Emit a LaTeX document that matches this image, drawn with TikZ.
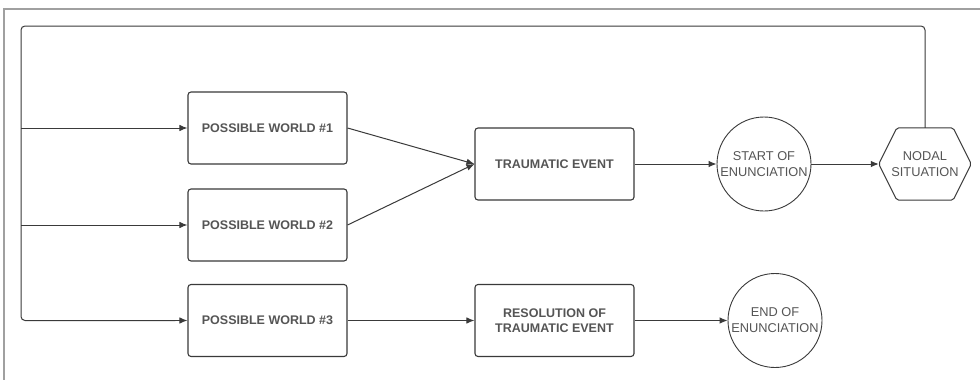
\documentclass[tikz,border=0pt]{standalone}
\usepackage{fontspec}
\setmainfont{Liberation Sans}
\usetikzlibrary{arrows.meta}
\definecolor{lineC}{HTML}{3A3A3A}
\definecolor{textC}{HTML}{555555}
\definecolor{frameC}{HTML}{A0A0A0}
\begin{document}
\begin{tikzpicture}[x=1pt,y=-1pt,
  box/.style={draw=lineC, line width=1.1pt, rounded corners=3pt, minimum width=159pt, minimum height=72pt, inner sep=0pt, align=center, text=textC, font=\bfseries\fontsize{12.5}{15.5}\selectfont},
  circ/.style={draw=lineC, line width=0.9pt, circle, minimum size=94pt, inner sep=0pt, align=center, text=textC, font=\fontsize{12.8}{16}\selectfont},
  hexbox/.style={minimum width=92pt, minimum height=72pt, inner sep=0pt, align=center, text=textC, font=\fontsize{12.8}{16}\selectfont},
  conn/.style={draw=lineC, line width=1pt},
  arr/.style={conn, -{Latex[length=8pt,width=6.5pt]}}
]
\useasboundingbox (0,0) rectangle (980,380);
\fill[white] (0,0) rectangle (980,380);
% frame
\draw[frameC, line width=1.2pt] (4,380) -- (4,9) -- (980,9);

\node[box] (pw1) at (267.5,128) {POSSIBLE WORLD \#1};
\node[box] (pw2) at (267.5,225) {POSSIBLE WORLD \#2};
\node[box] (pw3) at (267.5,320.5) {POSSIBLE WORLD \#3};
\node[box] (te) at (554.5,164) {TRAUMATIC EVENT};
\node[box] (res) at (554.5,320.5) {RESOLUTION OF\\TRAUMATIC EVENT};
\node[circ] (start) at (764,164) {START OF\\ENUNCIATION};
\node[circ] (end) at (775,320.5) {END OF\\ENUNCIATION};
\node[hexbox] (hex) at (925,164) {NODAL\\SITUATION};
\draw[lineC, line width=1pt, rounded corners=2pt]
  (hex.west) -- ([xshift=18pt]hex.north west) -- ([xshift=-18pt]hex.north east) -- (hex.east)
  -- ([xshift=-18pt]hex.south east) -- ([xshift=18pt]hex.south west) -- cycle;

\coordinate (tl) at (21,26);
% loop
\draw[conn, rounded corners=4pt] (hex.north) |- (tl) |- ([xshift=-12pt]pw3.west);
\draw[arr] ([xshift=6pt]tl |- pw3.west) -- (pw3.west);
\draw[arr] (tl |- pw1.west) -- (pw1.west);
\draw[arr] (tl |- pw2.west) -- (pw2.west);

\draw[arr] (pw1.east) -- (te.west);
\draw[arr] (pw2.east) -- (te.west);
\draw[arr] (te.east) -- (start.west);
\draw[arr] (start.east) -- (hex.west);
\draw[arr] (pw3.east) -- (res.west);
\draw[arr] (res.east) -- (end.west);
\end{tikzpicture}
\end{document}
